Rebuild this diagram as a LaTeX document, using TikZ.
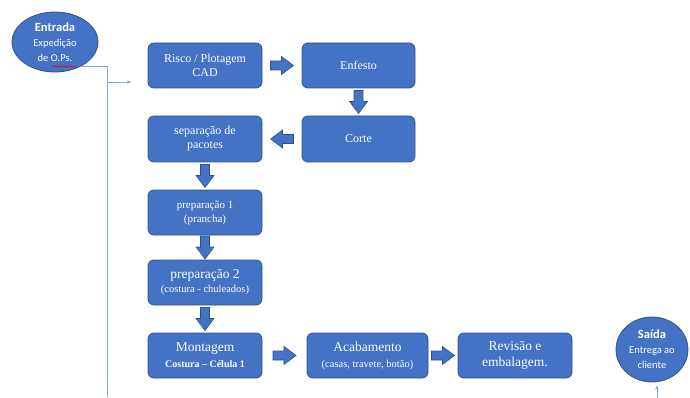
\documentclass[tikz,border=0pt]{standalone}
\usepackage{fontspec}
\setmainfont{Liberation Serif}
\newfontfamily\calib{Carlito}
\usetikzlibrary{shapes.geometric,arrows.meta,calc,decorations.pathmorphing}
\definecolor{boxfill}{HTML}{4472C4}
\definecolor{boxedge}{HTML}{2F528F}
\definecolor{linkblue}{HTML}{7FA6DE}
\tikzset{
  proc/.style={rectangle, rounded corners=6pt, fill=boxfill, draw=boxedge, line width=0.8pt,
    text=white, align=center, minimum width=114pt, minimum height=45pt, inner sep=2pt,
    font=\fontsize{12}{14}\selectfont},
  big/.style={font=\fontsize{13.5}{16}\selectfont},
  term/.style={ellipse, fill=boxfill, draw=boxedge, line width=0.8pt, text=white,
    align=center, inner sep=0pt, font=\calib\fontsize{10.5}{15}\selectfont},
  blockarrow/.pic={\filldraw[fill=boxfill, draw=boxedge, line width=0.6pt, line join=miter]
    (-11.5,-4.5) -- (-0.5,-4.5) -- (-0.5,-9) -- (11.5,0) -- (-0.5,9) -- (-0.5,4.5) -- (-11.5,4.5) -- cycle;},
  link/.style={draw=linkblue, line width=0.8pt},
  tipend/.style={-{Stealth[length=4pt,width=3.5pt]}}
}
\begin{document}
\begin{tikzpicture}[x=1pt,y=-1pt]
\useasboundingbox (0,0) rectangle (690,398);

% terminals
\node[term, minimum width=86pt, minimum height=60pt] (entrada) at (55,42)
  {{\bfseries\fontsize{12.5}{15}\selectfont Entrada}\\Expedição\\de O.Ps.};
\node[term, minimum width=72pt, minimum height=65pt] (saida) at (652,349.5)
  {{\bfseries\fontsize{12.5}{15}\selectfont Saída}\\Entrega ao\\cliente};
\draw[red, line width=0.5pt, decorate, decoration={snake, segment length=2.2pt, amplitude=0.6pt}]
  (52,66.5) -- (76,66.5);

% process boxes
\node[proc] (risco) at (205,65.5) {Risco / Plotagem\\CAD};
\node[proc, minimum width=113pt] (enfesto) at (358.5,65.5) {Enfesto};
\node[proc, minimum width=113pt, minimum height=46pt] (corte) at (358.5,139) {Corte};
\node[proc, minimum height=46pt] (separ) at (205,139) {separação de\\pacotes};
\node[proc] (prep1) at (205,212.5) {{\fontsize{11}{13}\selectfont preparação 1}\\{\fontsize{11}{13}\selectfont (prancha)}};
\node[proc] (prep2) at (205,282.5) {{\fontsize{13.5}{15}\selectfont preparação 2}\\{\fontsize{10.5}{13}\selectfont (costura - chuleados)}};
\node[proc, big] (mont) at (205,355.5) {Montagem\\{\bfseries\fontsize{10}{12}\selectfont Costura – Célula 1}};
\node[proc, big, minimum width=121pt] (acab) at (367.5,355.5) {Acabamento\\{\fontsize{10.5}{12}\selectfont (casas, travete, botão)}};
\node[proc, big] (revis) at (515,355.5) {Revisão e\\embalagem.};

% block arrows
\pic at ($(risco.east)!0.5!(enfesto.west)$) {blockarrow};
\pic[rotate=-90] at ($(enfesto.south)!0.5!(corte.north)$) {blockarrow};
\pic[rotate=180] at ($(corte.west)!0.5!(separ.east)$) {blockarrow};
\pic[rotate=-90] at ($(separ.south)!0.5!(prep1.north)$) {blockarrow};
\pic[rotate=-90] at ($(prep1.south)!0.5!(prep2.north)$) {blockarrow};
\pic[rotate=-90] at ($(prep2.south)!0.5!(mont.north)$) {blockarrow};
\pic at ($(mont.east)!0.5!(acab.west)$) {blockarrow};
\pic at ($(acab.east)!0.5!(revis.west)$) {blockarrow};

% thin connectors
\coordinate (busbot) at (107,397);
\coordinate (busjoin) at (107,82);
\coordinate (busin) at (131,82);
\draw[link] (entrada.-44) -| (busbot);
\draw[link, tipend] (busjoin) -- (busin);
\coordinate (sbot) at (657,398);
\coordinate (stop) at (657,385.5);
\draw[link, tipend] (sbot) -- (stop);
\end{tikzpicture}
\end{document}
